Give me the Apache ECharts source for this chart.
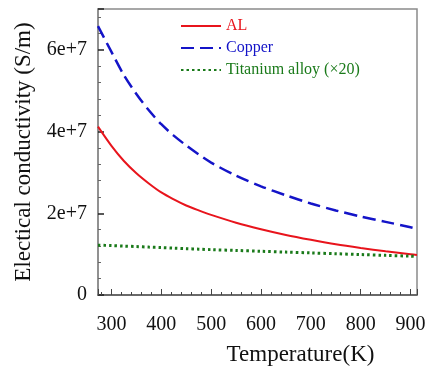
<!DOCTYPE html>
<html>
<head>
<meta charset="utf-8">
<style>html,body{margin:0;padding:0;background:#fff}#c{width:429px;height:371px}</style>
<script src="https://cdn.jsdelivr.net/npm/echarts@6/dist/echarts.min.js"></script>
</head>
<body>
<div id="c"></div>
<script>
var temperatures = [273, 300, 325, 350, 375, 400, 425, 450, 475, 500, 550, 600, 650, 700, 750, 800, 850, 900, 913];
var alValues = [4.12e7, 3.65e7, 3.28e7, 2.98e7, 2.73e7, 2.51e7, 2.34e7, 2.19e7, 2.07e7, 1.96e7, 1.77e7, 1.61e7, 1.47e7, 1.35e7, 1.24e7, 1.15e7, 1.07e7, 1.00e7, 0.98e7];
var copperValues = [6.58e7, 5.95e7, 5.38e7, 4.92e7, 4.52e7, 4.18e7, 3.90e7, 3.66e7, 3.44e7, 3.24e7, 2.92e7, 2.66e7, 2.44e7, 2.24e7, 2.07e7, 1.92e7, 1.79e7, 1.66e7, 1.62e7];
var titaniumValues = [1.22e7, 1.21e7, 1.197e7, 1.185e7, 1.172e7, 1.16e7, 1.147e7, 1.135e7, 1.122e7, 1.11e7, 1.09e7, 1.07e7, 1.05e7, 1.03e7, 1.01e7, 0.99e7, 0.97e7, 0.95e7, 0.94e7];
var seriesNames = ['AL', 'Copper', 'Titanium alloy (\u00d720)'];
var colors = ['#e8141c', '#1414c8', '#1a7a1a'];

function pairs(xs, ys) { return xs.map(function (x, i) { return [x, ys[i]]; }); }

var font = 'Liberation Serif';
var chart = echarts.init(document.getElementById('c'), null, {renderer: 'canvas'});
chart.setOption({
  animation: false,
  grid: {left: 98, right: 12, top: 9, bottom: 64, show: true, borderColor: '#8a8a8a', borderWidth: 1.5, backgroundColor: 'transparent'},
  legend: {
    orient: 'vertical', left: 175, top: 13, itemWidth: 40, itemHeight: 14, itemGap: 6,
    itemStyle: {opacity: 0},
    textStyle: {fontFamily: font, fontSize: 16},
    data: seriesNames.map(function (n, i) { return {name: n, textStyle: {color: colors[i]}}; })
  },
  xAxis: {
    type: 'value', min: 273, max: 913,
    name: 'Temperature(K)', nameLocation: 'middle', nameGap: 48,
    nameTextStyle: {fontFamily: font, fontSize: 23, color: '#111', padding: [0, 0, 0, 86]},
    axisLine: {show: true, lineStyle: {color: '#555', width: 1.5}},
    axisTick: {show: true, inside: true, length: 6, lineStyle: {color: '#444'}},
    minorTick: {show: true, splitNumber: 5, length: 3, lineStyle: {color: '#444'}},
    axisLabel: {fontFamily: font, fontSize: 20, color: '#111', margin: 20, showMinLabel: false, showMaxLabel: false},
    splitLine: {show: false}
  },
  yAxis: {
    type: 'value', min: 0, max: 7e7, interval: 2e7,
    name: 'Electical conductivity (S/m)', nameLocation: 'middle', nameGap: 60,
    nameTextStyle: {fontFamily: font, fontSize: 23, color: '#111'},
    axisLine: {show: true, lineStyle: {color: '#8a8a8a', width: 1.5}},
    axisTick: {show: true, inside: true, length: 6, lineStyle: {color: '#222', width: 1.5}},
    minorTick: {show: true, splitNumber: 5, length: 3, lineStyle: {color: '#666'}},
    axisLabel: {fontFamily: font, fontSize: 20, color: '#111', margin: 11, showMaxLabel: false,
      formatter: function (v) { return v === 0 ? '0' : (v / 1e7) + 'e+7'; }},
    splitLine: {show: false}
  },
  series: [
    {name: seriesNames[0], type: 'line', smooth: 0.3, symbol: 'none', data: pairs(temperatures, alValues),
     lineStyle: {color: colors[0], width: 2}, itemStyle: {color: colors[0]}},
    {name: seriesNames[1], type: 'line', smooth: 0.3, symbol: 'none', data: pairs(temperatures, copperValues),
     lineStyle: {color: colors[1], width: 2.5, type: [13, 6]}, itemStyle: {color: colors[1]}},
    {name: seriesNames[2], type: 'line', smooth: 0.3, symbol: 'none', data: pairs(temperatures, titaniumValues),
     lineStyle: {color: colors[2], width: 3, type: [2.5, 3]}, itemStyle: {color: colors[2]}}
  ]
});
</script>
</body>
</html>
